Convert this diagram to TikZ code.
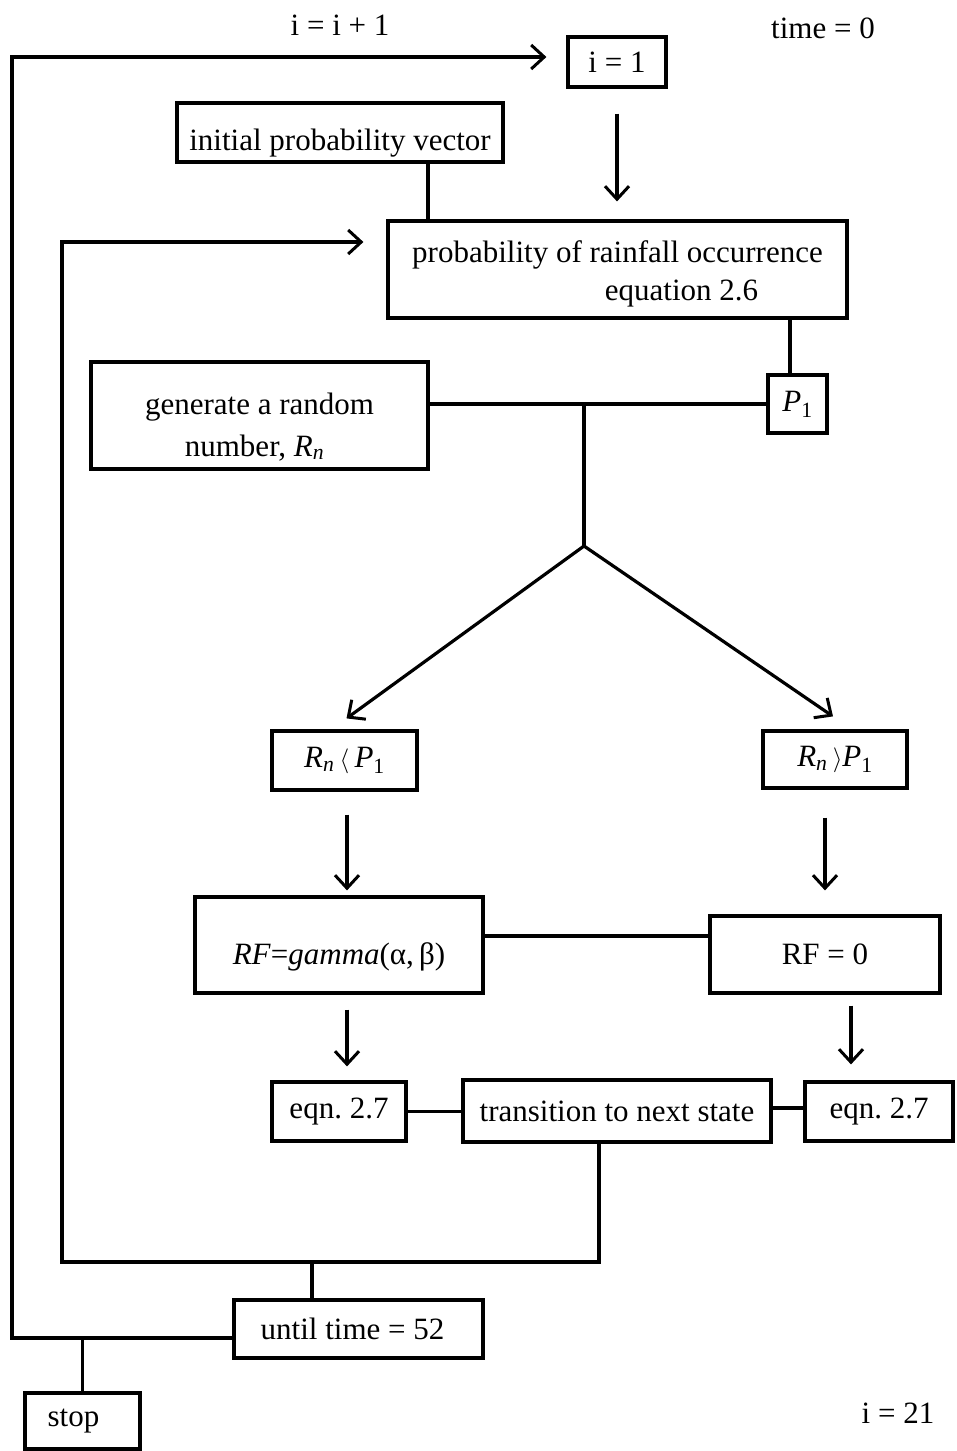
\documentclass[tikz,border=0pt]{standalone}
\usepackage{fontspec}
\setmainfont{Liberation Serif}
\usetikzlibrary{arrows.meta}
\frenchspacing
\tikzset{
  box/.style={draw, line width=3.2pt, inner sep=2pt, align=center, font=\fontsize{31}{38}\selectfont},
  lbl/.style={inner sep=0pt, font=\fontsize{31}{36}\selectfont},
  ln/.style={line width=3.2pt},
  arr/.style={line width=3.2pt, -{Straight Barb[length=13pt,width=24pt,line width=3pt]}}
}
\newcommand{\Rn}{\textit{R}\textsubscript{\textit{n}}}
\newcommand{\Pone}{\textit{P}\textsubscript{1}}
\begin{document}
\begin{tikzpicture}[x=1pt,y=-1pt]
\useasboundingbox (0,0) rectangle (956,1451);
% labels
\node[lbl] (lab1) at (340,25) {i = i + 1};
\node[lbl] (lab2) at (823,28) {time = 0};
\node[lbl] (lab3) at (898,1413) {i = 21};
% boxes
\node[box, minimum width=98pt, minimum height=50pt] (i1) at (617,62) {i = 1};
\node[box, minimum width=326pt, minimum height=59pt] (ipv) at (340,132.5) {\rule{0pt}{42pt}initial probability vector};
\node[box, minimum width=459pt, minimum height=97pt] (prob) at (617.5,269.5) {\rule{0pt}{30pt}probability of rainfall occurrence\\\hspace*{128pt}equation 2.6};
\node[box, minimum width=59pt, minimum height=58pt] (P1) at (797.5,404) {\Pone};
\node[box, minimum width=337pt, minimum height=107pt] (gen) at (259.5,415.5) {\rule{0pt}{44pt}generate a random\\[4pt]\hspace*{-10pt}number, \Rn};
\node[box, minimum width=145pt, minimum height=59pt] (lt) at (344.5,760.5) {\Rn\,$\langle$\,\Pone};
\node[box, minimum width=144pt, minimum height=57pt] (gt) at (835,759.5) {\Rn\,$\rangle$\Pone};
\node[box, minimum width=288pt, minimum height=96pt] (gam) at (339,945) {\rule{0pt}{46pt}\textit{RF}=\textit{gamma}(α,\,β)};
\node[box, minimum width=230pt, minimum height=77pt] (rf0) at (825,954.5) {RF = 0};
\node[box, minimum width=134pt, minimum height=59pt] (eqL) at (339,1111.5) {eqn. 2.7};
\node[box, minimum width=308pt, minimum height=62pt] (tr) at (617,1111) {transition to next state};
\node[box, minimum width=148pt, minimum height=59pt] (eqR) at (879,1111.5) {eqn. 2.7};
\node[box, minimum width=249pt, minimum height=58pt] (until) at (358.5,1329) {until time = 52\hspace*{12pt}};
\node[box, minimum width=115pt, minimum height=56pt] (stop) at (82.5,1421) {stop\hspace*{18pt}};
% coordinates
\coordinate (ol) at (12,1338);
\coordinate (otop) at (12,57);
\coordinate (sj) at (82.5,1338);
\coordinate (il1) at (599,1262);
\coordinate (il2) at (62,1262);
\coordinate (il3) at (62,242);
\coordinate (j2) at (312,1262);
\coordinate (jt) at (584,404);
\coordinate (jv) at (584,546);
% connectors
\draw[arr, line join=miter] ([yshift=-9pt]until.west) -- (ol) -- (otop) -- ([xshift=-20pt,yshift=5pt]i1.west);
\draw[ln] (sj) -- (stop.north);
\draw[arr, line join=miter] ([xshift=-18pt]tr.south) -- (il1) -- (il2) -- (il3) -- ([xshift=-23pt,yshift=27.5pt]prob.west);
\draw[ln] (j2) -- (j2 |- until.north);
\draw[arr] ([yshift=-25pt]i1.south) -- ([yshift=18pt]i1.south |- prob.north);
\draw[ln] ([xshift=88pt]ipv.south) -- ([xshift=88pt]ipv.south |- prob.north);
\draw[ln] ([xshift=-7.5pt]P1.north) -- ([xshift=-7.5pt]P1.north |- prob.south);
\draw[ln] (gen.east |- P1.west) -- (P1.west);
\draw[ln] (jt) -- (jv);
\draw[arr] (jv) -- ([shift={(2pt,11pt)}]lt.north);
\draw[arr] (jv) -- ([shift={(-2pt,13pt)}]gt.north);
\draw[arr] ([xshift=2.5pt,yshift=-23pt]lt.south) -- ([xshift=2.5pt,yshift=5pt]lt.south |- gam.north);
\draw[arr] ([xshift=-10pt,yshift=-28pt]gt.south) -- ([xshift=-10pt,yshift=24pt]gt.south |- rf0.north);
\draw[ln] ([yshift=9pt]gam.east) -- ([yshift=9pt]gam.east -| rf0.west);
\draw[arr] ([xshift=8pt,yshift=-15pt]gam.south) -- ([xshift=8pt,yshift=14pt]gam.south |- eqL.north);
\draw[arr] ([xshift=26pt,yshift=-11pt]rf0.south) -- ([xshift=26pt,yshift=16pt]rf0.south |- eqR.north);
\draw[ln] (eqL.east) -- (eqL.east -| tr.west);
\draw[ln] ([yshift=3pt]tr.east) -- ([yshift=3pt]tr.east -| eqR.west);
\end{tikzpicture}
\end{document}
